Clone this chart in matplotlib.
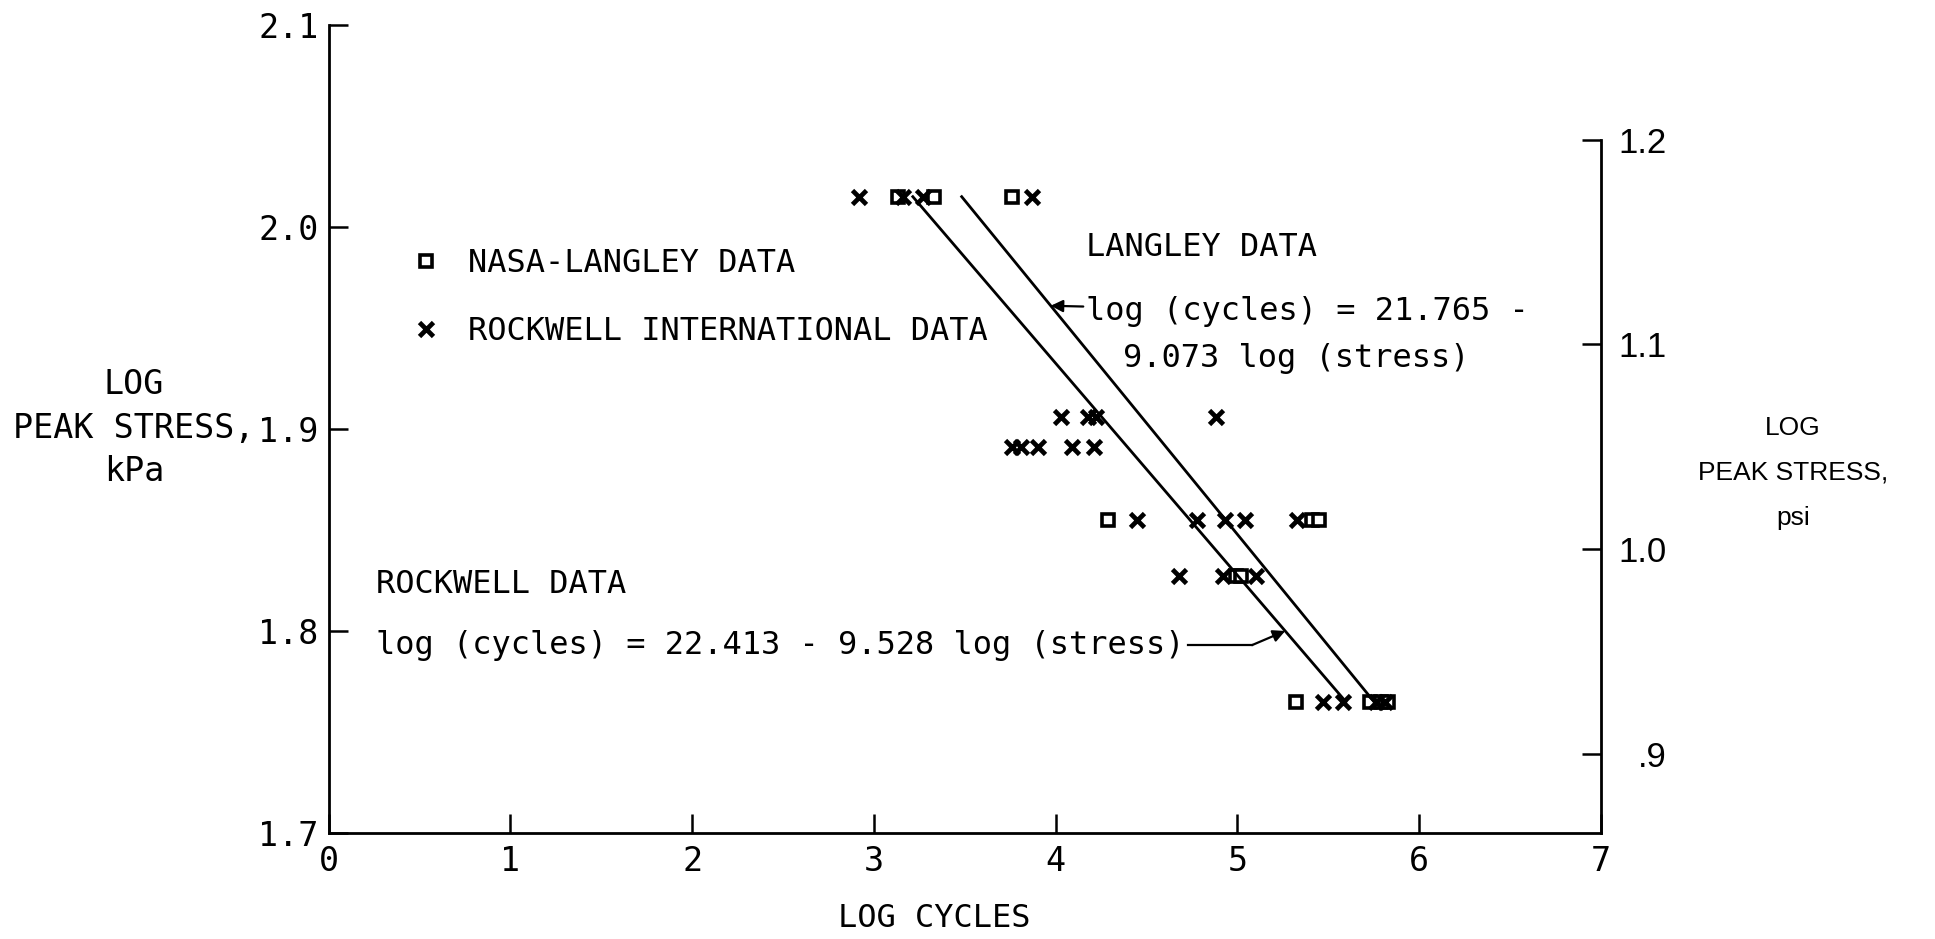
import matplotlib
matplotlib.use('Agg')
import matplotlib.pyplot as plt

# log peak stress (kPa) and log cycles to failure, read per specimen
nasa_cycles = [3.13, 3.33, 3.76, 4.29, 5.41, 5.45, 4.99, 5.02, 5.32, 5.73, 5.79, 5.83]
nasa_stress = [2.015, 2.015, 2.015, 1.855, 1.855, 1.855, 1.827, 1.827, 1.765, 1.765, 1.765, 1.765]

rockwell_cycles = [2.92, 3.16, 3.27, 3.87,
                   4.03, 4.18, 4.22, 4.88,
                   3.76, 3.81, 3.90, 4.09, 4.21,
                   4.45, 4.78, 4.93, 5.04, 5.33,
                   4.68, 4.92, 5.10,
                   5.47, 5.58, 5.76, 5.81]
rockwell_stress = [2.015, 2.015, 2.015, 2.015,
                   1.906, 1.906, 1.906, 1.906,
                   1.891, 1.891, 1.891, 1.891, 1.891,
                   1.855, 1.855, 1.855, 1.855, 1.855,
                   1.827, 1.827, 1.827,
                   1.765, 1.765, 1.765, 1.765]

# fits: log(cycles) = a - b log(stress)
langley_a, langley_b = 21.765, 9.073
rockwell_a, rockwell_b = 22.413, 9.528
fit_stress = [1.765, 2.015]

x_ticks = [0, 1, 2, 3, 4, 5, 6, 7]
kpa_ticks = [1.7, 1.8, 1.9, 2.0, 2.1]
kpa_labels = ['1.7', '1.8', '1.9', '2.0', '2.1']
psi_ticks = [0.9, 1.0, 1.1, 1.2]
psi_labels = ['.9', '1.0', '1.1', '1.2']

main_font = ['DejaVu Sans Mono']
psi_font = ['Liberation Sans', 'DejaVu Sans']
fs = 23

fig = plt.figure(figsize=(19.35, 9.39), dpi=100)
ax = fig.add_axes([0.1698, 0.1129, 0.6576, 0.8605])
ax.set_xlim(0, 7)
ax.set_ylim(1.7, 2.1)

ax.plot(nasa_cycles, nasa_stress, ls='none', marker='s', ms=9, mfc='white',
        mec='black', mew=2.6, label='NASA-LANGLEY DATA')
ax.plot(rockwell_cycles, rockwell_stress, ls='none', marker='x', ms=10.5,
        mec='black', mew=3.4, label='ROCKWELL INTERNATIONAL DATA')

langley_line = [langley_a - langley_b * s for s in fit_stress]
rockwell_line = [rockwell_a - rockwell_b * s for s in fit_stress]
ax.plot(langley_line, fit_stress, color='black', lw=2.0)
ax.plot(rockwell_line, fit_stress, color='black', lw=2.0)

ax.set_xticks(x_ticks)
ax.set_xticklabels([str(t) for t in x_ticks], family=main_font, fontsize=fs + 1)
ax.set_yticks(kpa_ticks)
ax.set_yticklabels(kpa_labels, family=main_font, fontsize=fs + 1)
ax.tick_params(direction='in', length=14, width=1.8, color='black')
ax.tick_params(axis='x', pad=9)
ax.tick_params(axis='y', pad=7)
for side in ['top', 'right']:
    ax.spines[side].set_visible(False)
for side in ['left', 'bottom']:
    ax.spines[side].set_linewidth(2.0)

# psi scale on the right
psi = ax.twinx()
psi.set_ylim(0.8615, 1.256)
psi.set_yticks(psi_ticks)
psi.set_yticklabels(psi_labels, family=psi_font, fontsize=25)
psi.tick_params(direction='in', length=14, width=1.8, pad=47)
for lab in psi.get_yticklabels():
    lab.set_horizontalalignment('right')
for side in ['top', 'left', 'bottom']:
    psi.spines[side].set_visible(False)
psi.spines['right'].set_bounds(0.8615, 1.2)
psi.spines['right'].set_linewidth(2.0)

leg = ax.legend(loc='upper left', bbox_to_anchor=(0.2119, 0.736),
                bbox_transform=fig.transFigure, frameon=False,
                prop={'family': main_font, 'size': fs}, handlelength=1.0,
                handletextpad=0.8, labelspacing=1.17, borderpad=0,
                borderaxespad=0, numpoints=1)

txt = dict(family=main_font, fontsize=fs, va='center')
ax.text(4.167, 1.990, 'LANGLEY DATA', **txt)
ax.annotate('log (cycles) = 21.765 -', xy=(langley_a - langley_b * 1.961, 1.961),
            xytext=(4.167, 1.958), ha='left',
            arrowprops=dict(arrowstyle='-|>', color='black', lw=1.6,
                            mutation_scale=18, shrinkA=0, shrinkB=0), **txt)
ax.text(4.37, 1.935, '9.073 log (stress)', **txt)
ax.text(0.26, 1.823, 'ROCKWELL DATA', **txt)
ax.text(0.26, 1.793, 'log (cycles) = 22.413 - 9.528 log (stress)', **txt)
ax.plot([4.73, 5.08], [1.793, 1.793], color='black', lw=1.6)
ax.annotate('', xy=(rockwell_a - rockwell_b * 1.800, 1.800), xytext=(5.08, 1.793),
            arrowprops=dict(arrowstyle='-|>', color='black', lw=1.6,
                            mutation_scale=18, shrinkA=0, shrinkB=0))

fig.text(0.0693, 0.544, 'LOG\nPEAK STRESS,\nkPa', family=main_font, fontsize=fs + 1,
         ha='center', va='center', linespacing=1.4)
fig.text(0.9265, 0.4965, 'LOG\nPEAK STRESS,\npsi', family=psi_font, fontsize=19,
         ha='center', va='center', linespacing=2.1)
fig.text(0.4827, 0.0213, 'LOG CYCLES', family=main_font, fontsize=fs,
         ha='center', va='center')

fig.savefig('out.png', dpi=100, facecolor='white')
